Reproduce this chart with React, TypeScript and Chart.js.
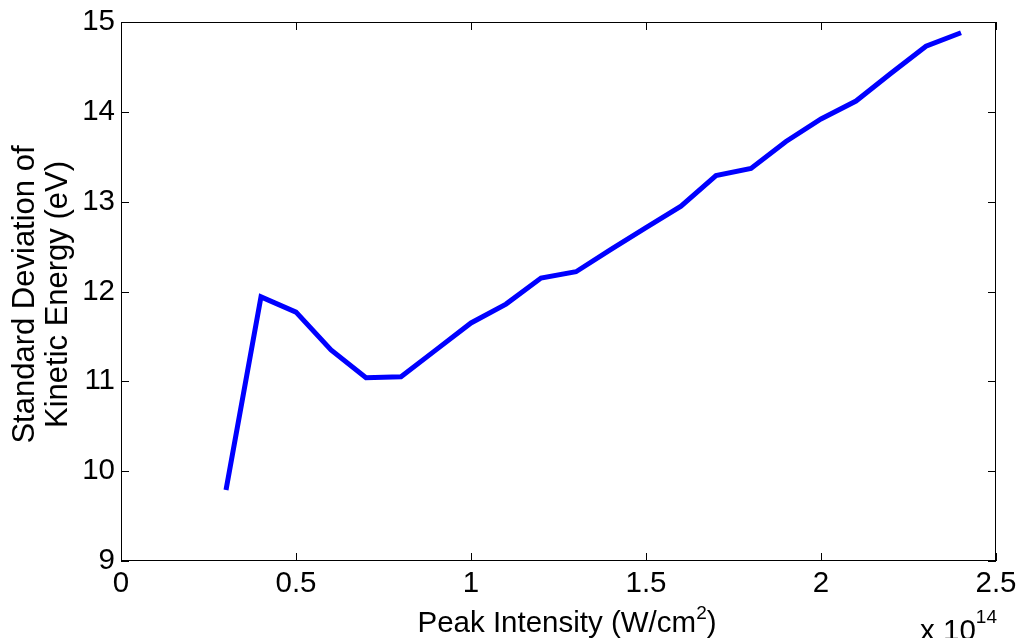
import React, { useEffect, useRef } from "react";
import { Chart, registerables } from "chart.js";

Chart.register(...registerables);

// Peak intensity in units of 1e14 W/cm^2
const intensity = [0.3, 0.4, 0.5, 0.6, 0.7, 0.8, 0.9, 1.0, 1.1, 1.2, 1.3, 1.4, 1.5, 1.6, 1.7, 1.8, 1.9, 2.0, 2.1, 2.2, 2.3, 2.4];
// Standard deviation of kinetic energy (eV)
const stdDev = [9.79, 11.94, 11.77, 11.35, 11.04, 11.05, 11.35, 11.65, 11.86, 12.15, 12.22, 12.47, 12.71, 12.95, 13.29, 13.37, 13.67, 13.92, 14.12, 14.43, 14.73, 14.88];

const xTicks = [0, 0.5, 1, 1.5, 2, 2.5];
const yTicks = [9, 10, 11, 12, 13, 14, 15];
const xTitle = "Peak Intensity (W/cm";
const xTitleSup = "2";
const xTitleEnd = ")";
const yTitle = ["Standard Deviation of", "Kinetic Energy (eV)"];
const expBase = "x 10";
const expSup = "14";

const FONT = "Arial, 'Liberation Sans', Helvetica, sans-serif";

const boxPlugin = {
  id: "matlabBox",
  afterDraw(chart: any) {
    const { ctx, chartArea } = chart;
    const xs = chart.scales.x;
    const ys = chart.scales.y;
    const { left, right, top, bottom } = chartArea;
    ctx.save();
    ctx.strokeStyle = "#000";
    ctx.lineWidth = 1;
    ctx.strokeRect(left + 0.5, top + 0.5, right - left - 1, bottom - top - 1);
    const tl = 8;
    ctx.beginPath();
    for (const v of xTicks) {
      const px = Math.round(xs.getPixelForValue(v)) + 0.5;
      ctx.moveTo(px, bottom);
      ctx.lineTo(px, bottom - tl);
      ctx.moveTo(px, top);
      ctx.lineTo(px, top + tl);
    }
    for (const v of yTicks) {
      const py = Math.round(ys.getPixelForValue(v)) + 0.5;
      ctx.moveTo(left, py);
      ctx.lineTo(left + tl, py);
      ctx.moveTo(right, py);
      ctx.lineTo(right - tl, py);
    }
    ctx.stroke();

    // x axis title with superscript
    ctx.fillStyle = "#000";
    ctx.textBaseline = "alphabetic";
    ctx.textAlign = "left";
    ctx.font = `29.5px ${FONT}`;
    const w1 = ctx.measureText(xTitle).width;
    const w3 = ctx.measureText(xTitleEnd).width;
    ctx.font = `19px ${FONT}`;
    const w2 = ctx.measureText(xTitleSup).width;
    const total = w1 + w2 + w3;
    const cx = 567;
    const x0 = cx - total / 2;
    const base = 632;
    ctx.font = `29.5px ${FONT}`;
    ctx.fillText(xTitle, x0, base);
    ctx.font = `19px ${FONT}`;
    ctx.fillText(xTitleSup, x0 + w1, base - 13);
    ctx.font = `29.5px ${FONT}`;
    ctx.fillText(xTitleEnd, x0 + w1 + w2, base);

    // exponent label
    ctx.font = `19px ${FONT}`;
    const e2 = ctx.measureText(expSup).width;
    ctx.font = `29.5px ${FONT}`;
    const e1 = ctx.measureText(expBase).width;
    const ex = right + 1 - e1 - e2;
    ctx.fillText(expBase, ex, 640);
    ctx.font = `19px ${FONT}`;
    ctx.fillText(expSup, ex + e1, 623);

    // y axis title (two lines, rotated)
    ctx.translate(0, 294.5);
    ctx.rotate(-Math.PI / 2);
    ctx.textAlign = "center";
    ctx.textBaseline = "alphabetic";
    ctx.font = `31px ${FONT}`;
    ctx.fillText(yTitle[0], 0, 34);
    ctx.fillText(yTitle[1], 0, 67);
    ctx.restore();
  },
};

export default function App() {
  const ref = useRef<HTMLCanvasElement>(null);
  useEffect(() => {
    if (!ref.current) return;
    const chart = new Chart(ref.current, {
      type: "line",
      data: {
        datasets: [
          {
            data: intensity.map((x, i) => ({ x, y: stdDev[i] })),
            borderColor: "#0000ff",
            borderWidth: 5,
            pointRadius: 0,
            tension: 0,
            fill: false,
          },
        ],
      },
      plugins: [boxPlugin],
      options: {
        animation: false,
        responsive: false,
        maintainAspectRatio: false,
        layout: { padding: { left: 0, right: 24, top: 22, bottom: 0 } },
        plugins: { legend: { display: false }, tooltip: { enabled: false } },
        scales: {
          x: {
            type: "linear",
            min: 0,
            max: 2.5,
            afterBuildTicks: (s: any) => {
              s.ticks = xTicks.map((v) => ({ value: v }));
            },
            afterFit: (s: any) => {
              s.height = 77;
              s.paddingLeft = 0;
              s.paddingRight = 0;
            },
            grid: { display: false, drawTicks: false },
            border: { display: false },
            ticks: {
              color: "#000",
              font: { family: FONT, size: 29.5 },
              padding: 5,
              maxRotation: 0,
              autoSkip: false,
              callback: (v: any) => String(v),
            },
          },
          y: {
            type: "linear",
            min: 9,
            max: 15,
            afterBuildTicks: (s: any) => {
              s.ticks = yTicks.map((v) => ({ value: v }));
            },
            afterFit: (s: any) => {
              s.width = 121;
              s.paddingTop = 0;
              s.paddingBottom = 0;
            },
            grid: { display: false, drawTicks: false },
            border: { display: false },
            ticks: {
              color: "#000",
              font: { family: FONT, size: 29.5 },
              padding: 6,
              autoSkip: false,
              callback: (v: any) => String(v),
            },
          },
        },
      },
    });
    return () => chart.destroy();
  }, []);
  return (
    <div style={{ position: "fixed", left: 0, top: 0, width: 1020, height: 638, background: "#fff" }}>
      <canvas ref={ref} width={1020} height={638} style={{ display: "block" }} />
    </div>
  );
}
